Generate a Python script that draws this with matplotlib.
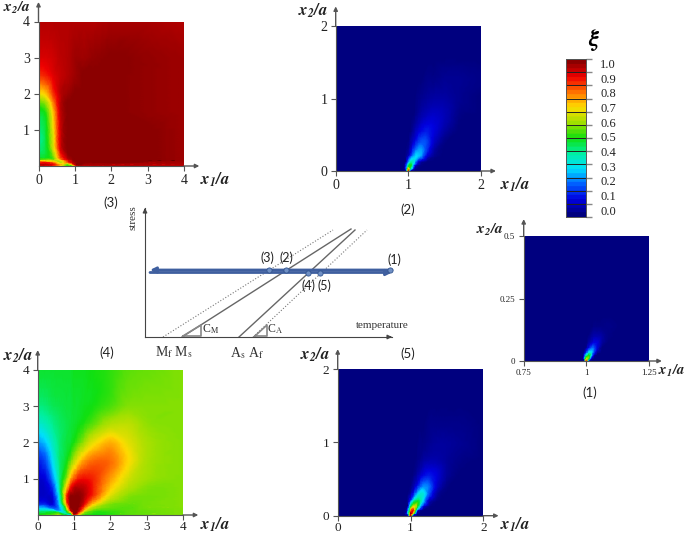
import matplotlib
matplotlib.use('Agg')
import matplotlib.pyplot as plt
import matplotlib.tri as mtri
import numpy as np
from matplotlib.colors import LinearSegmentedColormap

W, H = 685, 535

plt.rcParams['font.family'] = ['Liberation Serif', 'DejaVu Serif']
plt.rcParams['mathtext.fontset'] = 'stix'

# colour scale
scale_colors = ['#00007f', '#0000e0', '#0060ff', '#00e0ff', '#00f0a0', '#10e010',
                '#a0e000', '#ffdd00', '#ff7000', '#f00000', '#8b0000']
cbar_labels = ['0.0', '0.1', '0.2', '0.3', '0.4', '0.5', '0.6', '0.7', '0.8', '0.9', '1.0']
cbar_label_pos = [0.034, 0.127, 0.22, 0.312, 0.405, 0.498, 0.591, 0.684, 0.776, 0.869, 0.962]

# panel (3)
x3 = [0, .2, .4, .6, .8, .9, 1, 1.25, 1.5, 2, 3, 4]
y3 = [0, .05, .1, .15, .2, .3, .5, .75, 1, 1.5, 1.75, 2, 2.5, 3, 4]
z3 = [
    [.90, .90, .85, .70, .50, .40, .85, .93, .95, .95, .95, .95],
    [.95, .95, .90, .75, .55, .70, .95, .97, .97, .97, .96, .96],
    [.85, .85, .80, .62, .80, .90, .97, 1, 1, 1, .98, .97],
    [.65, .65, .62, .70, .90, .95, 1, 1, 1, 1, 1, .98],
    [.52, .52, .55, .80, .95, .98, 1, 1, 1, 1, 1, .98],
    [.46, .48, .58, .85, .98, 1, 1, 1, 1, 1, 1, .98],
    [.42, .47, .65, .92, 1, 1, 1, 1, 1, 1, 1, .98],
    [.40, .47, .67, .93, 1, 1, 1, 1, 1, 1, 1, .98],
    [.42, .48, .68, .93, 1, 1, 1, 1, 1, 1, 1, .98],
    [.48, .52, .72, .94, 1, 1, 1, 1, 1, 1, .99, .98],
    [.55, .60, .78, .95, 1, 1, 1, 1, 1, 1, .99, .98],
    [.68, .72, .85, .95, .98, .99, 1, 1, 1, 1, .99, .98],
    [.85, .87, .91, .94, .96, .97, .98, 1, 1, 1, .99, .98],
    [.92, .92, .93, .95, .96, .97, .98, .98, .99, 1, .99, .98],
    [.96, .96, .96, .96, .96, .96, .96, .96, .96, .97, .97, .96],
]

# panel (4)
x4 = [0, .2, .4, .6, .8, .9, 1, 1.1, 1.25, 1.5, 2, 2.5, 3, 4]
y4 = [0, .05, .1, .2, .3, .5, .75, 1, 1.5, 2, 2.5, 3, 4]
z4 = [
    [.50, .52, .55, .60, .50, .30, .90, .70, .55, .50, .52, .55, .56, .58],
    [.48, .50, .52, .55, .40, .50, 1, .85, .60, .52, .52, .55, .56, .58],
    [.42, .42, .42, .30, .50, .85, 1, .95, .72, .55, .53, .55, .56, .58],
    [.28, .28, .20, .25, .65, .97, 1, 1, .85, .64, .56, .55, .57, .58],
    [.15, .15, .10, .30, .80, 1, 1, 1, .93, .74, .58, .56, .57, .58],
    [.08, .08, .10, .35, .85, 1, 1, 1, .97, .86, .66, .58, .57, .58],
    [.07, .08, .15, .40, .72, .87, .95, .96, .95, .88, .72, .62, .58, .58],
    [.08, .10, .22, .42, .60, .74, .82, .87, .89, .87, .76, .65, .60, .58],
    [.13, .18, .30, .43, .50, .56, .62, .68, .75, .80, .80, .70, .61, .58],
    [.24, .28, .36, .43, .47, .48, .51, .54, .59, .67, .74, .67, .61, .58],
    [.35, .37, .41, .44, .46, .47, .48, .49, .51, .55, .62, .63, .59, .58],
    [.42, .43, .45, .46, .47, .47, .48, .48, .49, .50, .54, .58, .58, .58],
    [.48, .48, .48, .48, .48, .48, .49, .49, .49, .50, .52, .55, .56, .58],
]

# panel (2)
x2 = [0, .5, .8, .9, .96, 1, 1.04, 1.08, 1.12, 1.18, 1.25, 1.35, 1.5, 1.7, 2]
y2 = [0, .03, .07, .12, .2, .3, .4, .55, .75, 1, 1.3, 1.6, 2]
z2 = [
    [0, 0, 0, 0, .04, .95, .10, .01, 0, 0, 0, 0, 0, 0, 0],
    [0, 0, 0, 0, .12, .80, .40, .05, .01, 0, 0, 0, 0, 0, 0],
    [0, 0, 0, 0, .08, .45, .50, .18, .05, .01, 0, 0, 0, 0, 0],
    [0, 0, 0, 0, .03, .22, .40, .32, .15, .04, .01, 0, 0, 0, 0],
    [0, 0, 0, 0, .01, .08, .20, .28, .30, .24, .10, .02, 0, 0, 0],
    [0, 0, 0, 0, 0, .03, .10, .18, .23, .25, .17, .05, 0, 0, 0],
    [0, 0, 0, 0, 0, .01, .05, .10, .15, .19, .18, .08, .01, 0, 0],
    [0, 0, 0, 0, 0, 0, .01, .05, .08, .11, .13, .10, .04, 0, 0],
    [0, 0, 0, 0, 0, 0, 0, .01, .03, .05, .07, .08, .06, .01, 0],
    [0, 0, 0, 0, 0, 0, 0, 0, .01, .02, .03, .04, .04, .02, 0],
    [0, 0, 0, 0, 0, 0, 0, 0, 0, 0, .01, .01, .02, .02, .01],
    [0, 0, 0, 0, 0, 0, 0, 0, 0, 0, 0, 0, 0, 0, 0],
    [0, 0, 0, 0, 0, 0, 0, 0, 0, 0, 0, 0, 0, 0, 0],
]

# panel (5)
x5 = [0, .5, .8, .9, .96, 1, 1.04, 1.08, 1.12, 1.18, 1.25, 1.35, 1.5, 1.7, 2]
y5 = [0, .03, .07, .12, .2, .3, .4, .55, .75, 1, 1.3, 1.6, 2]
z5 = [
    [0, 0, 0, 0, .08, 1, .15, .01, 0, 0, 0, 0, 0, 0, 0],
    [0, 0, 0, 0, .25, 1, .70, .08, .01, 0, 0, 0, 0, 0, 0],
    [0, 0, 0, 0, .15, .75, .90, .35, .08, .01, 0, 0, 0, 0, 0],
    [0, 0, 0, 0, .06, .45, .68, .60, .35, .10, .02, 0, 0, 0, 0],
    [0, 0, 0, 0, .02, .18, .38, .47, .45, .28, .08, .01, 0, 0, 0],
    [0, 0, 0, 0, 0, .05, .14, .25, .33, .33, .20, .05, 0, 0, 0],
    [0, 0, 0, 0, 0, .01, .05, .11, .18, .24, .22, .09, .01, 0, 0],
    [0, 0, 0, 0, 0, 0, .01, .04, .07, .11, .13, .10, .03, 0, 0],
    [0, 0, 0, 0, 0, 0, 0, .01, .02, .04, .05, .05, .03, .01, 0],
    [0, 0, 0, 0, 0, 0, 0, 0, .01, .01, .02, .03, .03, .02, 0],
    [0, 0, 0, 0, 0, 0, 0, 0, 0, 0, .01, .01, .01, .01, 0],
    [0, 0, 0, 0, 0, 0, 0, 0, 0, 0, 0, 0, 0, 0, 0],
    [0, 0, 0, 0, 0, 0, 0, 0, 0, 0, 0, 0, 0, 0, 0],
]

# panel (1)
x1 = [.75, .88, .94, .975, .99, 1, 1.01, 1.02, 1.03, 1.045, 1.06, 1.09, 1.15, 1.25]
y1 = [0, .01, .02, .03, .05, .07, .1, .14, .2, .3, .5]
z1 = [
    [0, 0, 0, 0, .04, .90, .10, .01, 0, 0, 0, 0, 0, 0],
    [0, 0, 0, 0, .10, .70, .50, .06, .01, 0, 0, 0, 0, 0],
    [0, 0, 0, 0, .04, .45, .55, .25, .05, 0, 0, 0, 0, 0],
    [0, 0, 0, 0, .01, .20, .38, .33, .15, .02, 0, 0, 0, 0],
    [0, 0, 0, 0, 0, .05, .14, .22, .20, .09, .01, 0, 0, 0],
    [0, 0, 0, 0, 0, .01, .05, .09, .12, .10, .04, 0, 0, 0],
    [0, 0, 0, 0, 0, 0, .01, .03, .05, .05, .04, .01, 0, 0],
    [0, 0, 0, 0, 0, 0, 0, 0, .01, .01, .01, .01, 0, 0],
    [0, 0, 0, 0, 0, 0, 0, 0, 0, 0, 0, 0, 0, 0],
    [0, 0, 0, 0, 0, 0, 0, 0, 0, 0, 0, 0, 0, 0],
    [0, 0, 0, 0, 0, 0, 0, 0, 0, 0, 0, 0, 0, 0],
]

# phase diagram, x and y run 0..247 and 0..129 along the temperature and stress axes
mf_line = ([18, 188], [0, 107])
ms_line = ([37, 206], [0, 108])
as_line = ([94, 210], [0, 107])
af_line = ([108, 222], [0, 107])
cm_tri = ([38, 56, 56, 38], [1, 1, 12, 1])
ca_tri = ([110, 122, 122, 110], [1, 1, 12, 1])
load_x = [5, 247]
load_up_y = 67
load_down_y = 64.5
state_x = [124, 141, 163, 175, 245]
state_y = [67, 67, 64, 64, 67]

jet = LinearSegmentedColormap.from_list('xi', scale_colors, N=256)
jet_bands = LinearSegmentedColormap.from_list('xi_bar', scale_colors, N=36)


def px_axes(fig, left, top, right, bottom):
    return fig.add_axes([left / W, 1 - bottom / H, (right - left) / W, (bottom - top) / H])


def px_text(x, y, s, **kw):
    kw.setdefault('ha', 'center')
    kw.setdefault('va', 'center')
    fig.text(x / W, 1 - y / H, s, **kw)


def field_panel(box, x, y, z, xt, xl, yt, yl, fs=10, pad=2.5):
    ax = px_axes(fig, *box)
    xx, yy = np.meshgrid(x, y)
    tri = mtri.Triangulation(xx.ravel(), yy.ravel())
    vals = np.array(z).ravel()
    smooth = mtri.CubicTriInterpolator(tri, vals, kind='geom')
    fine_tri, fine_z = mtri.UniformTriRefiner(tri).refine_field(vals, triinterpolator=smooth, subdiv=3)
    ax.tripcolor(fine_tri, np.clip(fine_z, 0, 1), shading='gouraud', cmap=jet, vmin=0, vmax=1)
    ax.set_xlim(x[0], x[-1])
    ax.set_ylim(y[0], y[-1])
    ax.set_xticks(xt)
    ax.set_xticklabels(xl, fontsize=fs, color='#222222')
    ax.set_yticks(yt)
    ax.set_yticklabels(yl, fontsize=fs, color='#222222')
    ax.tick_params(length=3.5, width=0.8, color='#555555', pad=2.5)
    ax.tick_params(axis='x', pad=pad)
    for side in ['top', 'right']:
        ax.spines[side].set_visible(False)
    for side in ['left', 'bottom']:
        ax.spines[side].set_color('#555555')
    # arrows on the axes
    ax.annotate('', xy=(1.105, 0), xytext=(1, 0), xycoords='axes fraction',
                arrowprops=dict(arrowstyle='-|>', color='#555555', lw=1, mutation_scale=6, shrinkA=0, shrinkB=0))
    ax.annotate('', xy=(0, 1.135), xytext=(0, 1), xycoords='axes fraction',
                arrowprops=dict(arrowstyle='-|>', color='#555555', lw=1, mutation_scale=6, shrinkA=0, shrinkB=0))
    return ax


fig = plt.figure(figsize=(W / 100, H / 100), dpi=100)

field_panel((38.5, 21.5, 184, 166), x3, y3, z3, [0, 1, 2, 3, 4], list('01234'), [1, 2, 3, 4], list('1234'))
field_panel((335.7, 26, 480.7, 171), x2, y2, z2, [0, 1, 2], list('012'), [0, 1, 2], list('012'))
field_panel((37.7, 369.7, 183, 515), x4, y4, z4, [0, 1, 2, 3, 4], list('01234'), [1, 2, 3, 4], list('1234'), fs=9.5, pad=1)
field_panel((337.7, 369, 483.3, 515.7), x5, y5, z5, [0, 1, 2], list('012'), [0, 1, 2], list('012'), fs=9.5, pad=1)
field_panel((523.7, 236, 648.7, 361), x1, y1, z1, [.75, 1, 1.25], ['0.75', '1', '1.25'],
            [0, .25, .5], ['0', '0.25', '0.5'], fs=6.5)

# colour bar
cax = px_axes(fig, 565.7, 59, 585.7, 217)
cax.imshow(np.linspace(0, 1, 256)[:, None], origin='lower', extent=[0, 1, 0, 1], aspect='auto', cmap=jet_bands)
edges = np.arange(13) / 12
cax.hlines(edges, 0, 1, color='#222222', lw=0.7)
cax.set_xticks([])
cax.yaxis.tick_right()
cax.set_yticks(edges)
cax.set_yticklabels([])
cax.tick_params(length=4.5, width=1, color='#888888', pad=0)
for s in cax.spines.values():
    s.set_color('#555555')
    s.set_linewidth(0.7)
for lab, pos in zip(cbar_labels, cbar_label_pos):
    px_text(608, 217 - pos * 158, lab, fontsize=9, color='#222222')
px_text(594, 40, r'$\boldsymbol{\xi}$', fontsize=17)

# phase diagram
dax = px_axes(fig, 145, 208, 392, 337)
dax.set_xlim(0, 247)
dax.set_ylim(0, 129)
dax.patch.set_alpha(0)
dax.plot(*mf_line, color='#777777', lw=0.8, ls=':')
dax.plot(*ms_line, color='#666666', lw=1)
dax.plot(*as_line, color='#666666', lw=1)
dax.plot(*af_line, color='#777777', lw=0.8, ls=':')
dax.plot(*cm_tri, color='#888888', lw=1.2)
dax.plot(*ca_tri, color='#888888', lw=1.2)
dax.annotate('', xy=(load_x[0], load_up_y), xytext=(load_x[1], load_up_y),
             arrowprops=dict(arrowstyle='-|>', color='#3f5f9f', lw=2, mutation_scale=8, shrinkA=0, shrinkB=0))
dax.annotate('', xy=(load_x[1], load_down_y), xytext=(load_x[0], load_down_y),
             arrowprops=dict(arrowstyle='-|>', color='#3f5f9f', lw=2, mutation_scale=8, shrinkA=0, shrinkB=0))
dax.scatter(state_x, state_y, s=14, color='#6f8fc4', edgecolor='#34558f', lw=0.6, zorder=3, clip_on=False)
dax.set_xticks([])
dax.set_yticks([])
for side in ['top', 'right']:
    dax.spines[side].set_visible(False)
for side in ['left', 'bottom']:
    dax.spines[side].set_color('#444444')
dax.annotate('', xy=(1.0, 0), xytext=(0.99, 0), xycoords='axes fraction',
             arrowprops=dict(arrowstyle='-|>', color='#444444', lw=1, mutation_scale=6, shrinkA=0, shrinkB=0))
dax.annotate('', xy=(0, 1.0), xytext=(0, 0.98), xycoords='axes fraction',
             arrowprops=dict(arrowstyle='-|>', color='#444444', lw=1, mutation_scale=6, shrinkA=0, shrinkB=0))

# axis labels of the panels
lab = dict(fontsize=12, color='#222222')
px_text(17, 8, r'$\mathbfit{x_2/a}$', fontsize=11, color='#222222')
px_text(215, 180, r'$\mathbfit{x_1/a}$', **lab)
px_text(313, 11, r'$\mathbfit{x_2/a}$', **lab)
px_text(515, 185, r'$\mathbfit{x_1/a}$', **lab)
px_text(18, 356, r'$\mathbfit{x_2/a}$', **lab)
px_text(215, 525, r'$\mathbfit{x_1/a}$', **lab)
px_text(315, 355, r'$\mathbfit{x_2/a}$', **lab)
px_text(515, 525, r'$\mathbfit{x_1/a}$', **lab)
px_text(490, 230, r'$\mathbfit{x_2/a}$', fontsize=11, color='#222222')
px_text(671, 371, r'$\mathbfit{x_1/a}$', fontsize=10.5, color='#222222')

# panel names
name = dict(fontsize=9.5, family='Lato', color='#222222')
px_text(111, 203, '(3)', **name)
px_text(407.7, 210, '(2)', **name)
px_text(590, 392.7, '(1)', **name)
px_text(107, 353, '(4)', **name)
px_text(407.7, 354, '(5)', **name)

# state labels and notes of the phase diagram
small = dict(fontsize=9, family='Lato', color='#222222')
px_text(267, 258, '(3)', **small)
px_text(286, 258, '(2)', **small)
px_text(394, 260, '(1)', **small)
px_text(308, 286, '(4)', **small)
px_text(324, 286, '(5)', **small)
serif = dict(fontsize=8.5, color='#333333')
px_text(382, 326, 'temperature', fontsize=8, color='#333333')
px_text(133, 218, 'stress', fontsize=8, color='#333333', rotation=90)
px_text(211, 329, r'C$_{\mathrm{M}}$', **serif)
px_text(275, 329, r'C$_{\mathrm{A}}$', **serif)
px_text(174, 352, r'M$_{\mathrm{f}}$ M$_{\mathrm{s}}$', fontsize=10, color='#333333')
px_text(247, 353, r'A$_{\mathrm{s}}$ A$_{\mathrm{f}}$', fontsize=10, color='#333333')

plt.savefig('out.png', dpi=100)
